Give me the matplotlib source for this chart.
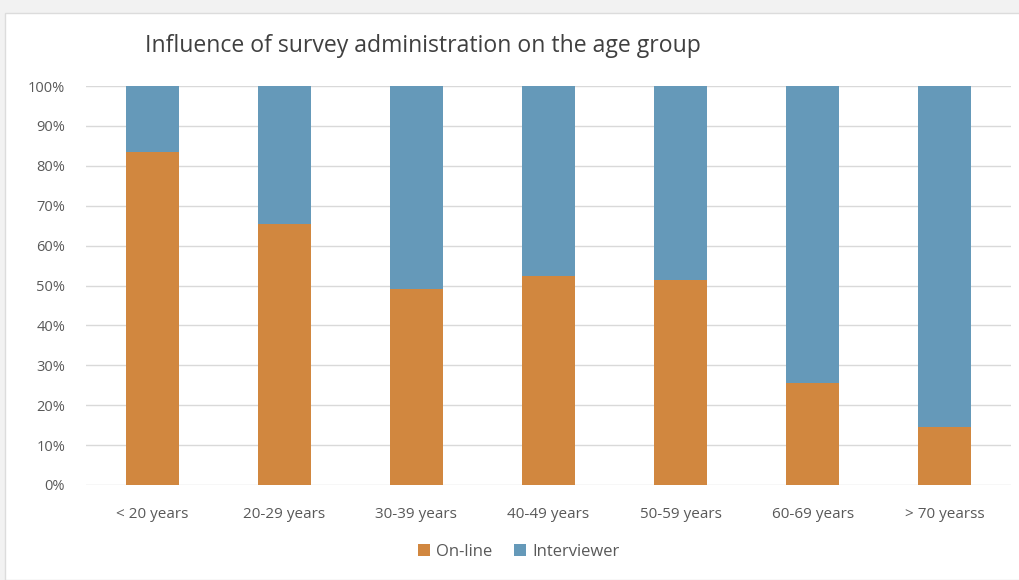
import matplotlib.pyplot as plt
from matplotlib.patches import Rectangle
import numpy as np

age_groups = ["< 20 years", "20-29 years", "30-39 years", "40-49 years",
              "50-59 years", "60-69 years", "> 70 yearss"]
online = [83.5, 65.5, 49.0, 52.5, 51.5, 25.5, 14.5]
interviewer = [100 - v for v in online]
y_ticks = list(range(0, 101, 10))

orange = "#D1873F"
blue = "#6599B9"
text_gray = "#595959"

plt.rcParams["font.family"] = ["Open Sans", "DejaVu Sans"]

fig = plt.figure(figsize=(10.19, 5.8), dpi=100)
fig.patch.set_facecolor("#f2f2f2")
# white chart panel with thin border, kept behind the axes
fig.patches.append(Rectangle((5 / 1019, 0), 1.0, (580 - 13) / 580,
                             transform=fig.transFigure, facecolor="white",
                             edgecolor="#dcdcdc", linewidth=1, zorder=-10))

ax = fig.add_axes([86 / 1019, 1 - 485 / 580, (1011 - 86) / 1019, (485 - 86) / 580])
ax.set_facecolor("none")
ax.set_zorder(1)

x = np.arange(len(age_groups))
ax.bar(x, online, width=0.4, color=orange, label="On-line", zorder=3)
ax.bar(x, interviewer, width=0.4, bottom=online, color=blue, label="Interviewer", zorder=3)

ax.set_xlim(-0.5, len(age_groups) - 0.5)
ax.set_ylim(0, 100)
ax.set_yticks(y_ticks)
ax.set_yticklabels([f"{t}%" for t in y_ticks])
ax.set_xticks(x)
ax.set_xticklabels(age_groups)
ax.tick_params(length=0, colors=text_gray)
ax.tick_params(axis="x", pad=16, labelsize=11)
ax.tick_params(axis="y", pad=15, labelsize=10.5)
ax.grid(axis="y", color="#d9d9d9", linewidth=1, zorder=0)
for s in ax.spines.values():
    s.set_visible(False)

fig.text(145 / 1019, 1 - 46 / 580, "Influence of survey administration on the age group",
         fontsize=16.6, color="#404040", va="center", ha="left")

fig.legend(loc="center", bbox_to_anchor=(519 / 1019, 1 - 552 / 580), ncol=2,
           frameon=False, fontsize=12, labelcolor=text_gray, handlelength=0.7,
           handleheight=0.7, handletextpad=0.4, columnspacing=1.3)

fig.savefig("out.png", dpi=100, facecolor=fig.get_facecolor())
